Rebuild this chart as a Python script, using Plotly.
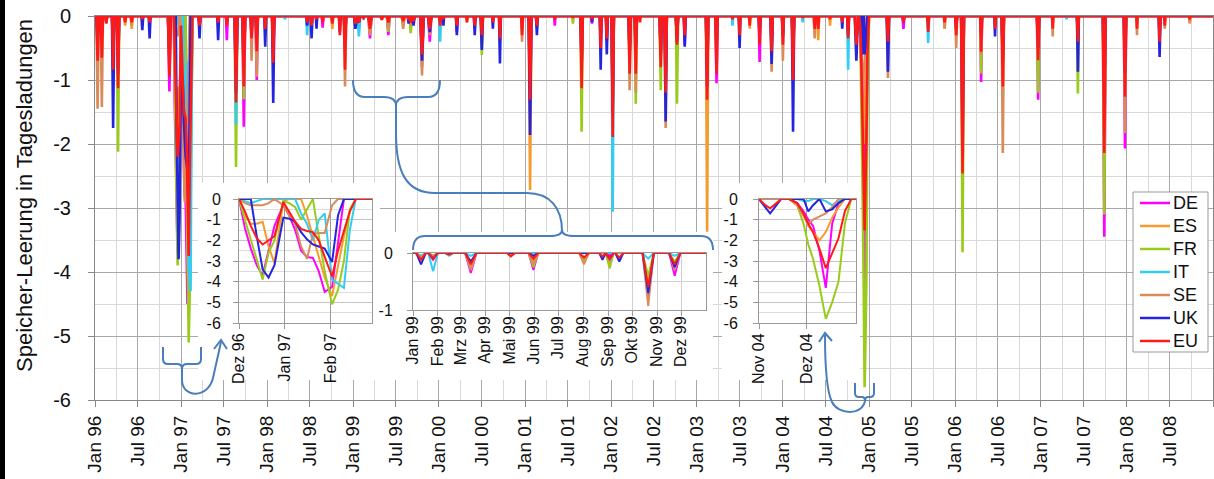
import plotly.graph_objects as go
from datetime import datetime, timedelta

# ---------------- data ----------------
SERIES = ["DE", "ES", "FR", "IT", "SE", "UK", "EU"]
COLORS = ["#FF00FF", "#F59B2E", "#99CC1A", "#33CCF5", "#D98C5A", "#2424E0", "#FF1A1A"]

EVENT_DATES = [
    "1996-01-12", "1996-01-30", "1996-02-18", "1996-03-18", "1996-04-08", "1996-05-08", "1996-06-05", "1996-07-20", "1996-08-20", "1996-11-12",
    "1997-03-20", "1997-06-07", "1997-07-14", "1997-08-22", "1997-09-24", "1997-10-27", "1997-11-18", "1997-12-24", "1998-01-27", "1998-03-18",
    "1998-06-20", "1998-07-09", "1998-07-30", "1998-08-25", "1998-10-05", "1998-11-06", "1998-11-28", "1999-01-11", "1999-01-26", "1999-02-15",
    "1999-03-14", "1999-05-03", "1999-05-31", "1999-08-02", "1999-08-25", "1999-09-03", "1999-09-15", "1999-10-21", "1999-11-23", "2000-01-06",
    "2000-01-20", "2000-03-17", "2000-04-29", "2000-06-01", "2000-07-01", "2000-08-17", "2000-09-16", "2000-12-19", "2001-01-22", "2001-02-20",
    "2001-05-07", "2001-07-23", "2001-08-29", "2001-10-12", "2001-11-18", "2001-12-14", "2002-01-08", "2002-03-21", "2002-04-16", "2002-05-04",
    "2002-07-31", "2002-08-21", "2002-10-08", "2002-11-10", "2003-02-13", "2003-03-25", "2003-06-01", "2003-07-01", "2003-08-13", "2003-09-24",
    "2003-11-14", "2004-01-01", "2004-02-13", "2004-03-25", "2004-05-15", "2004-05-30", "2004-07-19", "2004-09-09", "2004-10-04", "2005-03-22",
    "2005-05-27", "2005-09-09", "2005-11-18", "2006-01-06", "2006-02-02", "2006-04-22", "2006-06-20", "2006-07-23", "2006-12-20", "2007-02-20",
    "2007-04-20", "2007-06-07", "2007-09-27", "2007-12-24", "2008-02-13", "2008-05-19", "2008-06-10", "2008-09-24",
]
EVENT_HALF_DAYS = [
    5, 5, 4, 5, 5, 4, 4, 4, 4, 6,
    4, 4, 4, 6, 6, 4, 5, 4, 5, 3,
    4, 4, 3, 4, 4, 4, 5, 6, 6, 5,
    7, 5, 6, 6, 4, 5, 5, 7, 7, 4,
    3, 4, 3, 4, 5, 3, 4, 4, 6, 4,
    3, 3, 5, 3, 4, 4, 5, 5, 5, 3,
    5, 5, 5, 4, 5, 5, 3, 4, 3, 4,
    5, 4, 5, 3, 4, 4, 3, 3, 4, 5,
    4, 4, 3, 4, 6, 4, 3, 5, 5, 3,
    3, 4, 6, 5, 3, 4, 3, 3,
]
DE_EVT = [-0.5, -0.4, -0.1, -0.5, -0.6, 0, 0, 0, 0, -1.18,
          -0.2, 0, -0.38, -1.0, -1.73, -0.4, -1.0, 0, -0.5, 0,
          0, 0, -0.1, -0.18, 0, 0, -0.4, -0.1, -0.12, 0,
          -0.35, 0, -0.3, -0.1, 0, -0.05, 0, -0.8, -0.4, 0,
          0, -0.25, 0, 0, -0.2, 0, -0.1, -0.2, -0.8, 0,
          -0.15, 0, -0.6, -0.12, -0.3, -0.4, -1.2, -0.5, -0.4, 0,
          -0.5, -0.7, -0.3, -0.45, -0.9, -1.05, 0, 0, 0, -0.72,
          -0.4, -0.3, -0.6, 0, 0, 0, 0, 0, 0, -0.3,
          -0.2, 0, 0, -0.2, -2.6, -1.03, 0, -0.6, -1.31, 0,
          0, -0.3, -3.45, -2.07, 0, -0.3, 0, 0]
ES_EVT = [-0.3, -0.25, 0, -0.3, -0.4, -0.15, -0.2, 0, 0, -0.6,
          0, 0, -0.1, -0.9, -0.7, -0.3, -0.4, 0, -0.3, 0,
          0, 0, 0, 0, -0.2, 0, -0.3, -0.08, -0.05, 0,
          -0.25, -0.05, -0.15, -0.12, 0, -0.2, -0.1, -0.5, -0.2, 0,
          0, 0, -0.1, 0, -0.2, 0, 0, -0.1, -2.72, 0,
          0, 0, -0.5, 0, 0, 0, -1.0, -0.6, -0.7, 0,
          -0.6, -0.8, -0.3, 0, -3.37, -0.5, 0, 0, -0.2, 0,
          -0.3, -0.2, -0.5, 0, 0, -0.38, -0.15, 0, 0, -0.3,
          0, 0, -0.2, -0.2, -1.5, -0.3, 0, -0.8, -0.4, 0,
          0, -0.3, -1.2, -0.7, 0, 0, 0, -0.12]
FR_EVT = [-0.4, -0.3, 0, -0.4, -2.12, 0, 0, 0, 0, -0.7,
          0, 0, 0, -2.36, -1.3, -0.1, -0.3, 0, -0.4, 0,
          0, 0, 0, 0, 0, 0, -0.3, -0.05, -0.05, 0,
          -0.2, 0, -0.25, -0.15, 0, -0.27, 0, -0.4, -0.15, 0,
          0, 0, 0, 0, -0.61, 0, 0, 0, -0.9, -0.2,
          0, -0.12, -1.81, 0, 0, 0, -1.3, -0.7, -1.37, 0,
          -1.16, -1.0, -1.37, 0, -1.0, -0.6, 0, 0, 0, 0,
          -0.2, 0, -0.6, 0, 0, 0, 0, 0, 0, -0.2,
          0, 0, 0, 0, -3.69, -0.9, 0, -0.7, -1.2, 0,
          0, -1.21, -3.1, -0.9, 0, 0, 0, 0]
IT_EVT = [-0.1, -0.1, 0, -0.2, -0.2, 0, 0, 0, 0, -0.3,
          0, 0, 0, -1.7, -0.8, -0.2, -0.2, 0, -0.2, -0.05,
          -0.3, 0, 0, 0, 0, 0, -0.2, -0.05, -0.32, -0.05,
          -0.05, 0, 0, 0, 0, 0, 0, -0.1, -0.05, -0.4,
          0, 0, 0, 0, 0, 0, 0, 0, -0.5, 0,
          0, 0, -0.4, 0, 0, -0.1, -3.06, -0.3, -0.3, 0,
          -0.3, -0.4, -0.2, 0, -0.6, -0.3, -0.15, 0, 0, 0,
          0, 0, -0.3, -0.1, 0, 0, 0, 0, -0.84, -0.1,
          0, -0.42, 0, 0, -1.0, -0.2, 0, -0.3, -0.2, 0,
          -0.05, -0.2, -0.8, -0.3, 0, 0, 0, 0]
SE_EVT = [-1.45, -1.42, -0.1, -0.6, -0.8, -0.05, -0.15, 0, 0, -0.8,
          -0.1, 0, 0, -1.1, -0.9, -0.7, -0.95, 0, -0.5, 0,
          0, 0, 0, 0, -0.1, 0, -1.1, -0.08, -0.05, 0,
          -0.3, -0.05, -0.2, -0.2, 0, -0.15, 0, -0.93, -0.3, 0,
          0, 0, 0, 0, -0.1, 0, 0, -0.4, -1.5, 0,
          0, 0, -0.7, 0, -0.2, -0.2, -1.4, -1.16, -1.2, 0,
          -0.7, -1.75, -0.4, -0.2, -1.2, -0.6, 0, 0, -0.1, -0.2,
          -0.87, -0.7, -0.8, 0, -0.35, 0, 0, 0, 0, -0.97,
          0, 0, -0.2, -0.5, -2.0, -0.6, 0, -2.14, -0.6, -0.32,
          0, -0.3, -1.8, -1.83, -0.3, 0, -0.2, -0.1]
UK_EVT = [-0.4, -0.3, -0.05, -1.75, -0.9, 0, 0, -0.22, -0.35, -0.7,
          -0.35, -0.38, -0.1, -1.2, -0.8, -0.3, -0.35, -0.48, -1.36, 0,
          -0.15, -0.35, -0.2, 0, 0, -0.25, -0.4, -0.2, -0.1, 0,
          -0.15, 0, -0.05, 0, -0.12, -0.1, -0.15, -0.7, -0.25, -0.1,
          -0.15, -0.3, 0, -0.3, -0.53, -0.2, -0.74, -0.1, -1.86, -0.3,
          0, 0, -0.8, -0.1, -0.84, -0.6, -1.5, -0.6, -0.5, 0,
          -0.6, -1.65, -0.4, -0.48, -1.1, -0.5, 0, -0.5, 0, -0.3,
          -0.75, -0.3, -1.81, 0, 0, 0, 0, -0.2, -0.3, -0.87,
          -0.1, -0.1, 0, -0.2, -1.8, -0.3, -0.32, -0.7, -0.5, 0,
          0, -0.87, -1.3, -0.9, 0, -0.64, 0, 0]
EU_EVT = [-0.7, -0.65, -0.12, -0.84, -1.13, -0.1, -0.1, -0.05, -0.1, -0.95,
          -0.15, -0.1, -0.15, -1.35, -1.1, -0.35, -0.55, -0.2, -0.73, 0,
          -0.1, -0.15, -0.05, -0.1, -0.12, -0.3, -0.84, -0.12, -0.1, -0.03,
          -0.2, -0.06, -0.1, -0.08, -0.06, -0.1, -0.08, -0.6, -0.2, -0.15,
          -0.05, -0.15, -0.1, -0.15, -0.3, -0.1, -0.35, -0.3, -1.31, -0.15,
          -0.05, -0.03, -1.13, -0.05, -0.5, -0.35, -1.89, -0.9, -0.9, -0.1,
          -0.8, -1.2, -0.45, -0.3, -1.31, -0.9, -0.05, -0.3, -0.15, -0.45,
          -0.55, -0.45, -1.0, -0.03, -0.2, -0.2, -0.05, -0.1, -0.35, -0.4,
          -0.1, -0.25, -0.1, -0.3, -2.46, -0.56, -0.2, -1.1, -0.69, -0.2,
          0, -0.4, -2.14, -1.26, -0.2, -0.4, -0.15, -0.05]

# detailed winter 1996/97 (shown in first inset)
D1_DATES = ["1996-12-01", "1996-12-05", "1996-12-09", "1996-12-13", "1996-12-17", "1996-12-21", "1996-12-25", "1996-12-31",
            "1997-01-04", "1997-01-08", "1997-01-12", "1997-01-16", "1997-01-20", "1997-01-24", "1997-01-28", "1997-02-02",
            "1997-02-06", "1997-02-10", "1997-02-14", "1997-02-18", "1997-02-22", "1997-03-01"]
DE_D1 = [0, -1.4, -2.4, -3.2, -3.7, -2.5, -1.3, -0.3, -0.8, -1.5, -2.5, -2.8, -2.85, -3.5, -4.5, -4.25, -2.0, 0, 0, 0, 0, 0]
ES_D1 = [0, -0.8, -1.2, -1.2, -1.1, -2.3, -3.1, -0.1, 0, 0, 0, -0.8, -1.8, -2.8, -3.8, -4.7, -3.2, -1.8, -0.6, 0, 0, 0]
FR_D1 = [0, -1.0, -2.0, -3.0, -3.9, -2.6, -2.0, -0.1, -0.2, -0.4, -1.0, -0.5, 0, -1.8, -3.5, -5.1, -4.4, -3.0, -0.5, 0, 0, 0]
IT_D1 = [0, -0.1, -0.2, -0.1, 0, 0, 0, 0, 0, 0, -0.7, -1.2, -2.0, -1.0, -0.7, -3.9, -4.1, -4.3, -1.5, 0, 0, 0]
SE_D1 = [0, -0.2, -0.3, -0.3, -0.3, -0.2, 0, -0.3, -0.8, -1.2, -2.3, -2.9, -1.7, -1.65, -1.65, -0.3, 0, 0, 0, 0, 0, 0]
UK_D1 = [0, 0, 0, -1.8, -3.4, -3.8, -3.2, -0.9, -0.95, -1.1, -1.6, -1.95, -2.2, -2.3, -2.4, -3.05, -0.8, 0, 0, 0, 0, 0]
EU_D1 = [0, -0.6, -1.3, -1.9, -2.2, -2.0, -1.8, -0.15, -0.6, -1.1, -1.45, -1.55, -1.6, -2.0, -2.8, -3.75, -2.5, -1.5, -0.6, 0, 0, 0]

# detailed Nov/Dec 2004 (shown in third inset)
D2_DATES = ["2004-11-01", "2004-11-05", "2004-11-08", "2004-11-12", "2004-11-15", "2004-11-20", "2004-11-25", "2004-11-29",
            "2004-12-02", "2004-12-05", "2004-12-09", "2004-12-13", "2004-12-17", "2004-12-21", "2004-12-25", "2004-12-29", "2005-01-01"]
DE_D2 = [0, 0, 0, 0, 0, 0, -0.2, -0.6, -1.0, -1.3, -2.5, -4.3, -1.2, -0.2, 0, 0, 0]
ES_D2 = [0, 0, 0, 0, 0, 0, -0.3, -0.8, -1.3, -1.6, -2.0, -1.6, -0.9, -0.4, 0, 0, 0]
FR_D2 = [0, 0, 0, 0, 0, 0, -0.3, -1.2, -2.2, -2.9, -4.2, -5.8, -5.0, -4.0, -1.2, 0, 0]
IT_D2 = [0, 0, 0, 0, 0, 0, 0, -0.1, -0.1, 0, 0, -0.1, -0.3, -0.1, 0, 0, 0]
SE_D2 = [0, 0, 0, 0, 0, 0, -0.3, -0.8, -1.2, -1.0, -0.85, -0.7, -0.4, 0, 0, 0, 0]
UK_D2 = [0, -0.4, -0.7, -0.3, 0, 0, 0, 0, -0.6, -0.3, 0, -0.6, -0.5, -0.2, 0, 0, 0]
EU_D2 = [0, -0.3, -0.45, -0.2, 0, 0, -0.2, -0.7, -1.2, -1.6, -2.4, -3.35, -2.6, -1.9, -0.6, 0, 0]

START, END = "1996-01-01", "2009-01-01"

Y_TICKS = [0, -1, -2, -3, -4, -5, -6]
Y_LABELS = ["0", "-1", "-2", "-3", "-4", "-5", "-6"]
IN1_TICKS = ["1996-12-01", "1997-01-01", "1997-02-01"]
IN1_LABELS = ["Dez 96", "Jan 97", "Feb 97"]
IN2_TICKS = ["1999-%02d-01" % m for m in range(1, 13)]
IN2_LABELS = ["Jan 99", "Feb 99", "Mrz 99", "Apr 99", "Mai 99", "Jun 99", "Jul 99", "Aug 99", "Sep 99", "Okt 99", "Nov 99", "Dez 99"]
IN3_TICKS = ["2004-11-01", "2004-12-01"]
IN3_LABELS = ["Nov 04", "Dez 04"]

EVT = [DE_EVT, ES_EVT, FR_EVT, IT_EVT, SE_EVT, UK_EVT, EU_EVT]
DET1 = [DE_D1, ES_D1, FR_D1, IT_D1, SE_D1, UK_D1, EU_D1]
DET2 = [DE_D2, ES_D2, FR_D2, IT_D2, SE_D2, UK_D2, EU_D2]


def build(evt, d1, d2):
    pts = [(datetime.fromisoformat(START), 0.0), (datetime.fromisoformat(END), 0.0)]
    for ds, h, v in zip(EVENT_DATES, EVENT_HALF_DAYS, evt):
        if v == 0:
            continue
        t = datetime.fromisoformat(ds)
        pts += [(t - timedelta(days=h), 0.0), (t, v), (t + timedelta(days=h), 0.0)]
    for ds, v in zip(D1_DATES, d1):
        pts.append((datetime.fromisoformat(ds), v))
    for ds, v in zip(D2_DATES, d2):
        pts.append((datetime.fromisoformat(ds), v))
    pts.sort(key=lambda p: p[0])
    return [p[0] for p in pts], [p[1] for p in pts]


# ---------------- layout geometry ----------------
W, H = 1214, 479
ML, MR, MT, MB = 95, 1, 16, 79
PW = W - ML - MR
PH = H - MT - MB


def xp(px):
    return (px - ML) / PW


def yp(py):
    return (H - MB - py) / PH


def P(px, py):
    return "%.5f,%.5f" % (xp(px), yp(py))


FONT = "Liberation Sans, Arial, sans-serif"
fig = go.Figure()
data = [build(EVT[i], DET1[i], DET2[i]) for i in range(len(SERIES))]

# main chart traces
for i, name in enumerate(SERIES):
    xs, ys = data[i]
    fig.add_trace(go.Scatter(x=xs, y=ys, mode="lines", name=name,
                             line=dict(color=COLORS[i], width=2.6),
                             showlegend=False, hoverinfo="skip", xaxis="x", yaxis="y"))

# blank white panels behind the insets (subplots x2..x4, drawn above main chart)
BOXES = [(198, 183, 380, 380), (373, 232, 713, 380), (722, 183, 860, 380)]
layout_extra = {}
for k, (x0, y0, x1, y1) in enumerate(BOXES):
    n = k + 2
    fig.add_trace(go.Scatter(x=[None], y=[None], mode="lines", showlegend=False,
                             hoverinfo="skip", xaxis="x%d" % n, yaxis="y%d" % n))
    layout_extra["xaxis%d" % n] = dict(domain=[xp(x0), xp(x1)], anchor="y%d" % n, visible=False,
                                       range=[0, 1], showgrid=False, zeroline=False)
    layout_extra["yaxis%d" % n] = dict(domain=[yp(y1), yp(y0)], anchor="x%d" % n, visible=False,
                                       range=[0, 1], showgrid=False, zeroline=False)

# inset traces (x5..x7)
for xa, ya in [("x5", "y5"), ("x6", "y6"), ("x7", "y7")]:
    for i, name in enumerate(SERIES):
        xs, ys = data[i]
        fig.add_trace(go.Scatter(x=xs, y=ys, mode="lines", name=name,
                                 line=dict(color=COLORS[i], width=2),
                                 showlegend=False, hoverinfo="skip", xaxis=xa, yaxis=ya))

common_x = dict(type="date", tickangle=-90, ticks="outside", showline=True, mirror=True, zeroline=False)
inset_y = dict(tickmode="array", ticks="outside", ticklen=5, tickcolor="#999999",
               showline=True, linecolor="#999999", mirror=True, showgrid=True,
               gridcolor="#c4c4c4", zeroline=False, tickfont=dict(size=16))

fig.update_layout(
    width=W, height=H,
    margin=dict(l=ML, r=MR, t=MT, b=MB, pad=0),
    paper_bgcolor="white", plot_bgcolor="white",
    font=dict(family=FONT, color="#111111"),
    hovermode=False, showlegend=False,
    xaxis=dict(domain=[0, 1], anchor="y", range=[START, "2008-12-31 20:00"],
               tick0=START, dtick="M6", tickformat="%b %y",
               ticklen=6, tickcolor="#888888", linecolor="#888888",
               showgrid=True, gridcolor="#a8a8a8",
               minor=dict(tick0=START, dtick="M3", showgrid=True, gridcolor="#d9d9d9"),
               tickfont=dict(size=19), ticklabelstandoff=1, **common_x),
    yaxis=dict(domain=[0, 1], anchor="x", range=[-6, 0], tickmode="array",
               tickvals=Y_TICKS, ticktext=Y_LABELS, ticks="outside", ticklen=6,
               tickcolor="#888888", showline=True, linecolor="#888888", mirror=True,
               showgrid=True, gridcolor="#a8a8a8", zeroline=False,
               minor=dict(tickmode="linear", tick0=0, dtick=0.5, showgrid=True, gridcolor="#d9d9d9"),
               tickfont=dict(size=20), ticklabelstandoff=13),
    # inset 1 : Dez 96 - Feb 97
    xaxis5=dict(domain=[xp(239), xp(372)], anchor="y5", range=["1996-12-01", "1997-03-01"],
                tickmode="array", tickvals=IN1_TICKS, ticktext=IN1_LABELS,
                ticklen=5, tickcolor="#999999", linecolor="#999999",
                showgrid=True, gridcolor="#9a9a9a", tickfont=dict(size=16), ticklabelstandoff=-2, **common_x),
    yaxis5=dict(domain=[yp(323), yp(199)], anchor="x5", range=[-6, 0],
                tickvals=Y_TICKS, ticktext=Y_LABELS, ticklabelstandoff=9,
                minor=dict(tickmode="linear", tick0=0, dtick=0.5, showgrid=True, gridcolor="#dcdcdc"),
                **inset_y),
    # inset 2 : 1999
    xaxis6=dict(domain=[xp(413), xp(706)], anchor="y6", range=["1999-01-01", "2000-01-01"],
                tickmode="array", tickvals=IN2_TICKS, ticktext=IN2_LABELS,
                ticklen=5, tickcolor="#999999", linecolor="#999999",
                showgrid=True, gridcolor="#d0d0d0", tickfont=dict(size=16), ticklabelstandoff=-6, **common_x),
    yaxis6=dict(domain=[yp(310), yp(253)], anchor="x6", range=[-1, 0],
                tickvals=[0, -1], ticktext=["0", "-1"], ticklabelstandoff=11,
                minor=dict(tickmode="linear", tick0=0, dtick=0.5, showgrid=True, gridcolor="#d0d0d0"),
                **inset_y),
    # inset 3 : Nov - Dez 04
    xaxis7=dict(domain=[xp(759), xp(856)], anchor="y7", range=["2004-11-01", "2005-01-01"],
                tickmode="array", tickvals=IN3_TICKS, ticktext=IN3_LABELS,
                ticklen=5, tickcolor="#999999", linecolor="#999999",
                showgrid=True, gridcolor="#9a9a9a", tickfont=dict(size=16), ticklabelstandoff=-2, **common_x),
    yaxis7=dict(domain=[yp(323), yp(199)], anchor="x7", range=[-6, 0],
                tickvals=Y_TICKS, ticktext=Y_LABELS, ticklabelstandoff=12,
                minor=dict(tickmode="linear", tick0=0, dtick=0.5, showgrid=True, gridcolor="#dcdcdc"),
                **inset_y),
    **layout_extra,
)

# y-axis title
fig.add_annotation(text="Speicher-Leerung in Tagesladungen", textangle=-90,
                   xref="paper", yref="paper", x=xp(24), y=yp(196),
                   xanchor="center", yanchor="middle", showarrow=False,
                   font=dict(size=22, color="#111111", family=FONT))

shapes = []
BL = dict(color="#4A7EBB", width=2)
paths = [
    # brace over Jan 99 - Jan 00 + connector
    "M " + P(353, 80) + " Q " + P(353, 97) + " " + P(365, 97) + " L " + P(384, 97) + " Q " + P(396, 97) + " " + P(396, 106)
    + " M " + P(440, 80) + " Q " + P(440, 97) + " " + P(428, 97) + " L " + P(408, 97) + " Q " + P(396, 97) + " " + P(396, 106),
    "M " + P(396, 106) + " L " + P(396, 133) + " C " + P(396, 172) + " " + P(406, 193) + " " + P(435, 193)
    + " L " + P(527, 193) + " C " + P(550, 193) + " " + P(562, 208) + " " + P(562, 231),
    # brace over inset 2
    "M " + P(413, 250) + " Q " + P(413, 236) + " " + P(425, 236) + " L " + P(550, 236) + " Q " + P(562, 236) + " " + P(562, 230)
    + " M " + P(713, 250) + " Q " + P(713, 236) + " " + P(701, 236) + " L " + P(574, 236) + " Q " + P(562, 236) + " " + P(562, 230),
    # small brace Jan 97 + arrow
    "M " + P(163, 347) + " L " + P(163, 359) + " Q " + P(163, 364) + " " + P(168, 364) + " L " + P(177, 364) + " Q " + P(182, 364) + " " + P(182, 369)
    + " M " + P(201, 347) + " L " + P(201, 359) + " Q " + P(201, 364) + " " + P(196, 364) + " L " + P(187, 364) + " Q " + P(182, 364) + " " + P(182, 369),
    "M " + P(182, 369) + " L " + P(182, 380) + " C " + P(182, 398) + " " + P(208, 399) + " " + P(213, 378) + " L " + P(221, 342),
    "M " + P(214, 349) + " L " + P(221, 340) + " L " + P(227, 349),
    # small brace Jan 05 + arrow
    "M " + P(855, 383) + " L " + P(855, 393) + " Q " + P(855, 397) + " " + P(859, 397) + " L " + P(862, 397) + " Q " + P(865, 397) + " " + P(865, 401)
    + " M " + P(874, 383) + " L " + P(874, 393) + " Q " + P(874, 397) + " " + P(870, 397) + " L " + P(868, 397) + " Q " + P(865, 397) + " " + P(865, 401),
    "M " + P(865, 401) + " C " + P(862, 416) + " " + P(838, 415) + " " + P(832, 402) + " C " + P(826, 390) + " " + P(825, 362) + " " + P(825, 335),
    "M " + P(819, 342) + " L " + P(825, 333) + " L " + P(832, 341),
]
for pth in paths:
    shapes.append(dict(type="path", path=pth, xref="paper", yref="paper", layer="above", line=BL))

# legend (box, line samples, labels)
LEG_X0, LEG_Y0, LEG_X1, LEG_Y1 = 1133, 192, 1208, 352
shapes.append(dict(type="rect", xref="paper", yref="paper", layer="above",
                   x0=xp(LEG_X0), x1=xp(LEG_X1), y0=yp(LEG_Y1), y1=yp(LEG_Y0),
                   fillcolor="white", line=dict(color="#999999", width=1)))
step = (LEG_Y1 - LEG_Y0 - 22) / (len(SERIES) - 1)
for i, name in enumerate(SERIES):
    cy = LEG_Y0 + 11 + i * step
    shapes.append(dict(type="line", xref="paper", yref="paper", layer="above",
                       x0=xp(LEG_X0 + 7), x1=xp(LEG_X0 + 37), y0=yp(cy), y1=yp(cy),
                       line=dict(color=COLORS[i], width=2.5)))
    fig.add_annotation(text=name, xref="paper", yref="paper", x=xp(LEG_X0 + 38), y=yp(cy),
                       xanchor="left", yanchor="middle", showarrow=False,
                       font=dict(size=18, color="#111111", family=FONT))

# black frame bar on the left edge
shapes.append(dict(type="rect", xref="paper", yref="paper", layer="above",
                   x0=xp(0), x1=xp(5), y0=yp(0), y1=yp(H), fillcolor="black", line=dict(width=0)))

fig.update_layout(shapes=shapes)
fig.write_html("out.html", config={"displayModeBar": False},
               post_script="document.body.style.margin='0';")
